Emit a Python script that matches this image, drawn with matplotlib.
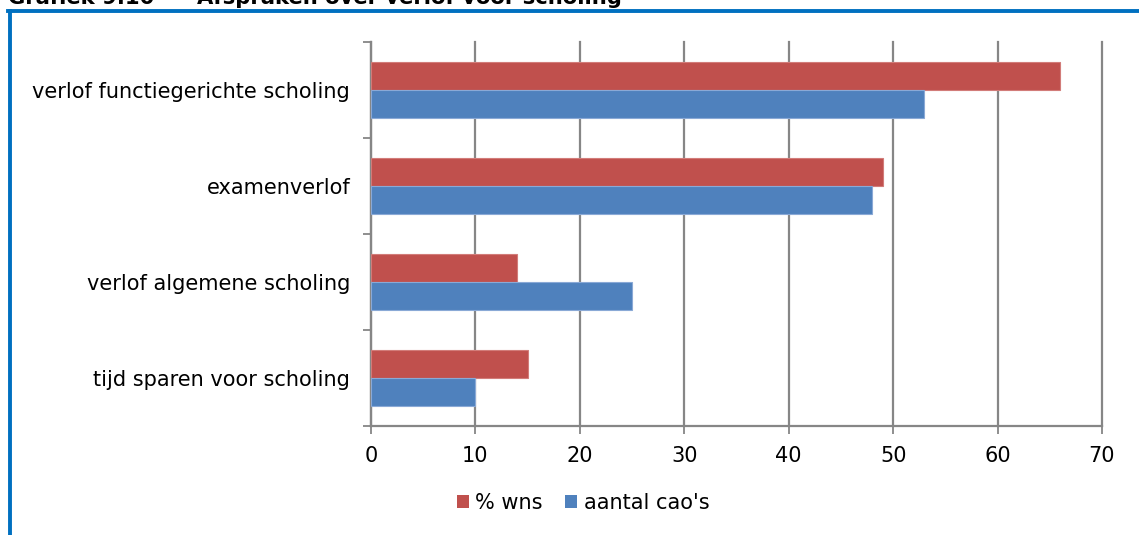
"""Grafiek 9.10: afspraken over verlof voor scholing."""

import matplotlib
matplotlib.use("Agg")
import matplotlib.pyplot as plt
import numpy as np
from matplotlib.lines import Line2D
from matplotlib.patches import Patch

categories = ["verlof functiegerichte scholing", "examenverlof",
              "verlof algemene scholing", "tijd sparen voor scholing"]
pct_wns = [66, 49, 14, 15]
aantal_caos = [53, 48, 25, 10]
series_labels = ["% wns", "aantal cao's"]
x_ticks = [0, 10, 20, 30, 40, 50, 60, 70]

RED = "#C0504D"
BLUE = "#4F81BD"
GRID = "#868686"
FONT = 15

W, H = 1139, 535


def main():
    plt.rcParams["font.family"] = ["DejaVu Sans"]
    fig = plt.figure(figsize=(W / 100, H / 100), dpi=100)
    ax = fig.add_axes([371 / W, 1 - 426 / H, (1102 - 371) / W, (426 - 42) / H])

    y = np.arange(len(categories))
    h = 0.29
    ax.barh(y - h / 2, pct_wns, height=h, color=RED, edgecolor="#D27C79", lw=0.8, zorder=3)
    ax.barh(y + h / 2, aantal_caos, height=h, color=BLUE, edgecolor="#8AA9D6", lw=0.8, zorder=3)

    ax.set_xlim(0, 70)
    ax.set_ylim(len(categories) - 0.5, -0.5)
    ax.set_xticks(x_ticks)
    ax.set_xticklabels([str(t) for t in x_ticks], fontsize=FONT)
    ax.xaxis.grid(True, color=GRID, lw=1.6, zorder=0)
    for gl in ax.get_xgridlines():
        gl.set_clip_on(False)

    ax.set_yticks(np.arange(len(categories) + 1) - 0.5)
    ax.set_yticklabels([])
    ax.set_yticks(y, minor=True)
    ax.set_yticklabels(categories, minor=True, fontsize=FONT)
    ax.tick_params(axis="y", which="minor", length=0, pad=15)
    ax.tick_params(axis="y", which="major", length=6, width=1.3, color=GRID)
    ax.tick_params(axis="x", length=6, width=1.3, color=GRID, pad=8.5)

    for side in ("top", "right"):
        ax.spines[side].set_visible(False)
    for side in ("left", "bottom"):
        ax.spines[side].set_color(GRID)
        ax.spines[side].set_linewidth(1.6)

    handles = [Patch(facecolor=RED), Patch(facecolor=BLUE)]
    fig.legend(handles, series_labels, loc="center", ncol=2,
               bbox_to_anchor=(583 / W, 1 - 503 / H), frameon=False,
               fontsize=FONT, handlelength=0.57, handleheight=0.57,
               handletextpad=0.3, columnspacing=1.1)

    # blauwe kader links en boven
    fig.add_artist(Line2D([10.3 / W, 10.3 / W], [0, 1 - 11.3 / H], color="#0070C0", lw=2.8))
    fig.add_artist(Line2D([8.3 / W, 1], [1 - 11.3 / H, 1 - 11.3 / H], color="#0070C0", lw=2.8))

    # titel, bovenkant valt buiten beeld
    fig.text(8 / W, 1 - 4.5 / H, "Grafiek 9.10", fontsize=15.2, fontweight="bold", va="baseline")
    fig.text(197 / W, 1 - 4.5 / H, "Afspraken over verlof voor scholing", fontsize=15.2,
             fontweight="bold", va="baseline")

    fig.savefig("out.png", dpi=100)


if __name__ == "__main__":
    main()
